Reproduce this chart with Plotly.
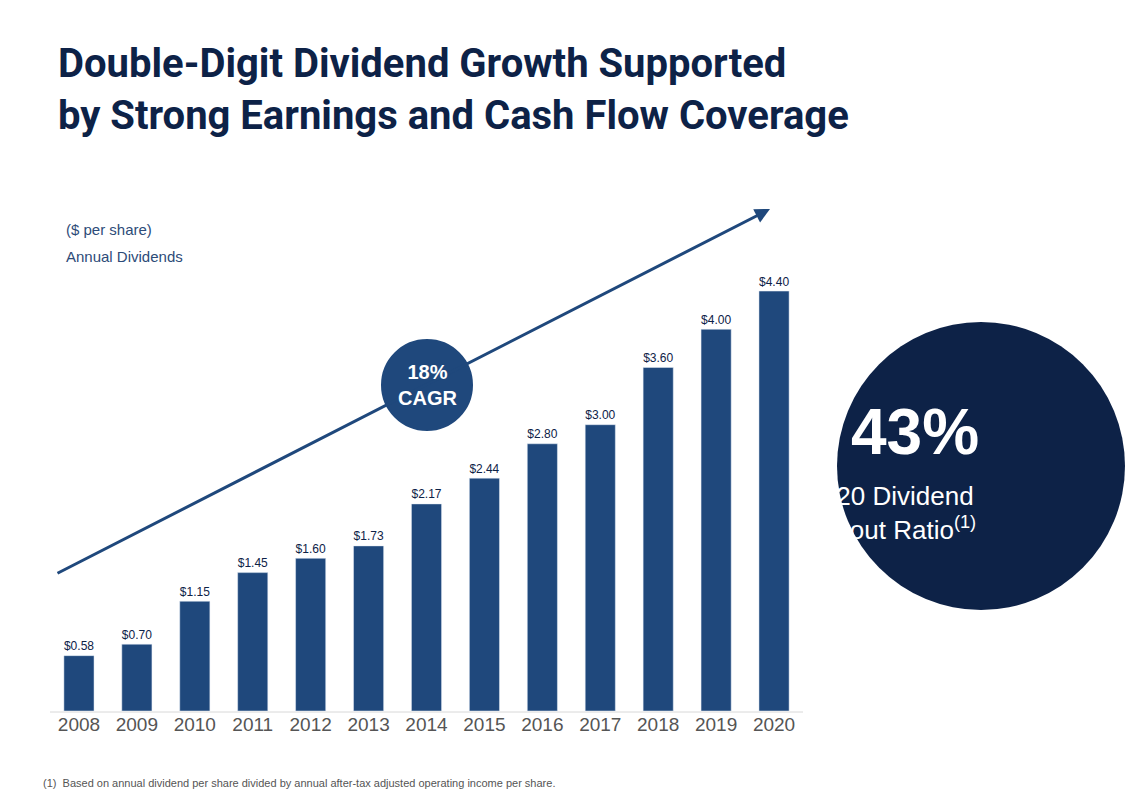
import plotly.graph_objects as go

years = ["2008", "2009", "2010", "2011", "2012", "2013", "2014",
         "2015", "2016", "2017", "2018", "2019", "2020"]
dividends = [0.58, 0.70, 1.15, 1.45, 1.60, 1.73, 2.17, 2.44, 2.80, 3.00, 3.60, 4.00, 4.40]

W, H = 1144, 795
NAVY = "#0d2247"
BAR = "#1f487c"
FONT = "Liberation Sans, Arial, sans-serif"


def px(x):
    return x / W


def py(y):
    return (H - y) / H


fig = go.Figure()
fig.add_trace(go.Bar(
    x=years, y=dividends, marker_color=BAR, width=0.52,
    text=[f"${v:.2f}" for v in dividends], textposition="outside",
    textfont=dict(size=19, color=NAVY, family=FONT), cliponaxis=False,
))

shapes = [
    dict(type="line", xref="paper", yref="paper", x0=px(42), x1=px(795),
         y0=py(704), y1=py(704), line=dict(color="#d8d8d8", width=1)),
    dict(type="circle", xref="paper", yref="paper", x0=px(372), x1=px(466),
         y0=py(424), y1=py(330), fillcolor=BAR, line=dict(color="white", width=2)),
    dict(type="circle", xref="paper", yref="paper", x0=px(829), x1=px(1117),
         y0=py(602), y1=py(314), fillcolor=NAVY, line=dict(width=0)),
]

annotations = [
    # growth arrow (tail offset in pixels from the head)
    dict(x=px(762), y=py(201), ax=-714, ay=365, xref="paper", yref="paper",
         axref="pixel", ayref="pixel", showarrow=True, arrowhead=2, arrowsize=1,
         arrowwidth=3, arrowcolor=BAR, text=""),
    dict(x=px(48), y=py(82), xref="paper", yref="paper", xanchor="left", yanchor="middle",
         showarrow=False, align="left",
         text="<b>Double-Digit Dividend Growth Supported<br>by Strong Earnings and Cash Flow Coverage</b>",
         font=dict(size=40, color=NAVY, family="Roboto, sans-serif")),
    dict(x=px(56), y=py(211), xref="paper", yref="paper", xanchor="left", showarrow=False,
         text="($ per share)", font=dict(size=15, color="#2d4b78", family=FONT)),
    dict(x=px(56), y=py(238), xref="paper", yref="paper", xanchor="left", showarrow=False,
         text="Annual Dividends", font=dict(size=15, color="#2d4b78", family=FONT)),
    dict(x=px(419), y=py(377), xref="paper", yref="paper", showarrow=False,
         text="<b>18%<br>CAGR</b>", font=dict(size=20, color="white", family=FONT)),
    dict(x=px(973), y=py(424), xref="paper", yref="paper", showarrow=False,
         text="<b>43%</b>", font=dict(size=64, color="white", family=FONT)),
    dict(x=px(970), y=py(505), xref="paper", yref="paper", showarrow=False,
         text="2020 Dividend<br>Payout Ratio<sup>(1)</sup>",
         font=dict(size=26, color="white", family=FONT)),
    dict(x=px(33), y=py(783), xref="paper", yref="paper", xanchor="left", showarrow=False,
         text="(1)  Based on annual dividend per share divided by annual after-tax adjusted operating income per share.",
         font=dict(size=11, color="#555555", family=FONT)),
]

fig.update_layout(
    width=W, height=H, margin=dict(l=0, r=0, t=0, b=0),
    plot_bgcolor="white", paper_bgcolor="white", showlegend=False,
    xaxis=dict(domain=[px(42), px(795)], showgrid=False, showline=False,
               tickfont=dict(size=19, color="#555555", family=FONT), ticks=""),
    yaxis=dict(domain=[py(703), py(264)], range=[0, 4.6], visible=False),
    shapes=shapes, annotations=annotations,
)

fig.write_html("out.html")
